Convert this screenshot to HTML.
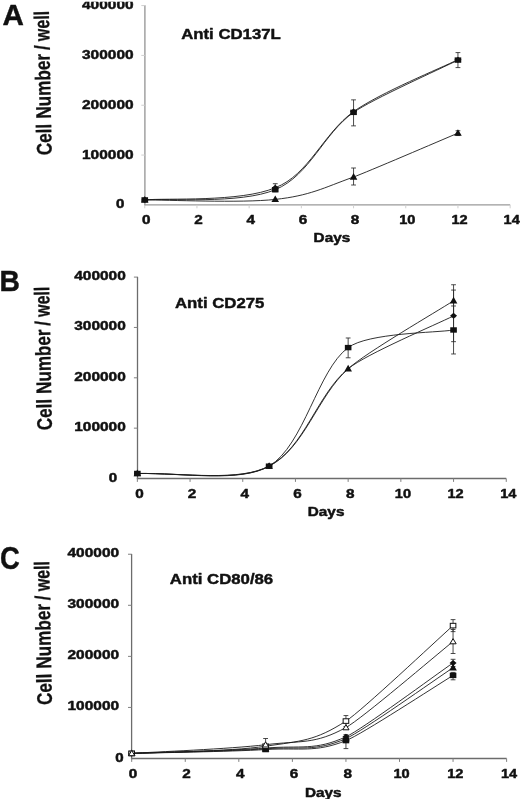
<!DOCTYPE html>
<html lang="en">
<head>
<meta charset="utf-8">
<title>Cell number per well</title>
<style>
html,body{margin:0;padding:0;background:#fff;}
body{width:520px;height:799px;overflow:hidden;}
svg{display:block;font-family:'Liberation Sans', Arial, Helvetica, sans-serif;font-weight:bold;fill:#111;}
text{stroke:#111;stroke-width:0.45px;stroke-linejoin:round;}
.yl text{stroke-width:0.3px;}
</style>
</head>
<body>
<svg width="520" height="799" viewBox="0 0 520 799">
<rect width="520" height="799" fill="#fff"/>
<line x1="144.9" y1="5.28" x2="144.9" y2="205.6" stroke="#9a9a9a" stroke-width="1.4"/>
<line x1="144.2" y1="204.9" x2="510.15" y2="204.9" stroke="#9a9a9a" stroke-width="1.4"/>
<line x1="141.3" y1="155.07" x2="144.9" y2="155.07" stroke="#cfcfcf" stroke-width="1"/>
<line x1="141.3" y1="105.24" x2="144.9" y2="105.24" stroke="#cfcfcf" stroke-width="1"/>
<line x1="141.3" y1="55.41" x2="144.9" y2="55.41" stroke="#cfcfcf" stroke-width="1"/>
<line x1="141.3" y1="5.58" x2="144.9" y2="5.58" stroke="#cfcfcf" stroke-width="1"/>
<line x1="144.75" y1="204.9" x2="144.75" y2="208.3" stroke="#cfcfcf" stroke-width="1"/>
<line x1="196.95" y1="204.9" x2="196.95" y2="208.3" stroke="#cfcfcf" stroke-width="1"/>
<line x1="249.15" y1="204.9" x2="249.15" y2="208.3" stroke="#cfcfcf" stroke-width="1"/>
<line x1="301.35" y1="204.9" x2="301.35" y2="208.3" stroke="#cfcfcf" stroke-width="1"/>
<line x1="353.55" y1="204.9" x2="353.55" y2="208.3" stroke="#cfcfcf" stroke-width="1"/>
<line x1="405.75" y1="204.9" x2="405.75" y2="208.3" stroke="#cfcfcf" stroke-width="1"/>
<line x1="457.95" y1="204.9" x2="457.95" y2="208.3" stroke="#cfcfcf" stroke-width="1"/>
<line x1="510.15" y1="204.9" x2="510.15" y2="208.3" stroke="#cfcfcf" stroke-width="1"/>
<text x="82" y="158.97" font-size="12.3" text-anchor="start" textLength="51.6" lengthAdjust="spacingAndGlyphs">100000</text>
<text x="82" y="109.14" font-size="12.3" text-anchor="start" textLength="51.6" lengthAdjust="spacingAndGlyphs">200000</text>
<text x="82" y="59.31" font-size="12.3" text-anchor="start" textLength="51.6" lengthAdjust="spacingAndGlyphs">300000</text>
<text x="82" y="9.48" font-size="12.3" text-anchor="start" textLength="51.6" lengthAdjust="spacingAndGlyphs">400000</text>
<text x="116" y="207.7" font-size="12" text-anchor="start" textLength="8.4" lengthAdjust="spacingAndGlyphs">0</text>
<text x="142.05" y="223.6" font-size="12" text-anchor="start" textLength="8.5" lengthAdjust="spacingAndGlyphs">0</text>
<text x="194.25" y="223.6" font-size="12" text-anchor="start" textLength="8.5" lengthAdjust="spacingAndGlyphs">2</text>
<text x="246.45" y="223.6" font-size="12" text-anchor="start" textLength="8.5" lengthAdjust="spacingAndGlyphs">4</text>
<text x="298.65" y="223.6" font-size="12" text-anchor="start" textLength="8.5" lengthAdjust="spacingAndGlyphs">6</text>
<text x="350.85" y="223.6" font-size="12" text-anchor="start" textLength="8.5" lengthAdjust="spacingAndGlyphs">8</text>
<text x="399.2" y="223.6" font-size="12" text-anchor="start" textLength="16.2" lengthAdjust="spacingAndGlyphs">10</text>
<text x="451.4" y="223.6" font-size="12" text-anchor="start" textLength="16.2" lengthAdjust="spacingAndGlyphs">12</text>
<text x="503.6" y="223.6" font-size="12" text-anchor="start" textLength="16.2" lengthAdjust="spacingAndGlyphs">14</text>
<text x="313.6" y="241.5" font-size="12" text-anchor="start" textLength="36.6" lengthAdjust="spacingAndGlyphs">Days</text>
<text x="181.2" y="39.4" font-size="15" text-anchor="start" textLength="99.6" lengthAdjust="spacingAndGlyphs">Anti CD137L</text>
<text x="2.6" y="24.5" font-size="30.4" text-anchor="start" textLength="21.4" lengthAdjust="spacingAndGlyphs">A</text>
<g class="yl" transform="translate(51.7 154.3) rotate(-91.15)" font-size="21.2">
<text x="-0.8" y="0" textLength="31.3" lengthAdjust="spacingAndGlyphs">Cell</text>
<text x="35.7" y="0" textLength="64.8" lengthAdjust="spacingAndGlyphs">Number</text>
<text x="104.3" y="0" textLength="5" lengthAdjust="spacingAndGlyphs">/</text>
<text x="113.4" y="0" textLength="30.2" lengthAdjust="spacingAndGlyphs">well</text>
</g>
<path d="M144.75 199.92 C166.5 197.88 240.45 202.43 275.25 187.71 C308.66 175.1 323.27 133.54 353.55 111.57 C380.96 92.36 440.55 68.3 457.95 59.65" fill="none" stroke="#1c1c1c" stroke-width="0.9"/>
<path d="M144.75 199.92 C166.5 198.21 240.45 204.29 275.25 189.7 C310.05 175.11 323.1 133.97 353.55 112.37 C371.82 99.4 440.55 68.81 457.95 60.09" fill="none" stroke="#1c1c1c" stroke-width="0.9"/>
<path d="M144.75 199.92 C166.5 199.83 240.45 203.24 275.25 199.42 C310.05 195.6 323.1 188.04 353.55 177 C366.34 172.36 440.55 140.45 457.95 133.14" fill="none" stroke="#1c1c1c" stroke-width="0.9"/>
<line x1="275.25" y1="183.71" x2="275.25" y2="191.71" stroke="#2a2a2a" stroke-width="0.85"/>
<line x1="272.85" y1="183.71" x2="277.65" y2="183.71" stroke="#2a2a2a" stroke-width="0.85"/>
<line x1="272.85" y1="191.71" x2="277.65" y2="191.71" stroke="#2a2a2a" stroke-width="0.85"/>
<line x1="353.55" y1="99.87" x2="353.55" y2="125.87" stroke="#2a2a2a" stroke-width="0.85"/>
<line x1="351.15" y1="99.87" x2="355.95" y2="99.87" stroke="#2a2a2a" stroke-width="0.85"/>
<line x1="351.15" y1="125.87" x2="355.95" y2="125.87" stroke="#2a2a2a" stroke-width="0.85"/>
<line x1="457.95" y1="52.59" x2="457.95" y2="67.59" stroke="#2a2a2a" stroke-width="0.85"/>
<line x1="455.55" y1="52.59" x2="460.35" y2="52.59" stroke="#2a2a2a" stroke-width="0.85"/>
<line x1="455.55" y1="67.59" x2="460.35" y2="67.59" stroke="#2a2a2a" stroke-width="0.85"/>
<line x1="353.55" y1="168" x2="353.55" y2="185" stroke="#2a2a2a" stroke-width="0.85"/>
<line x1="351.15" y1="168" x2="355.95" y2="168" stroke="#2a2a2a" stroke-width="0.85"/>
<line x1="351.15" y1="185" x2="355.95" y2="185" stroke="#2a2a2a" stroke-width="0.85"/>
<line x1="457.95" y1="130.74" x2="457.95" y2="135.54" stroke="#2a2a2a" stroke-width="0.85"/>
<line x1="455.55" y1="130.74" x2="460.35" y2="130.74" stroke="#2a2a2a" stroke-width="0.85"/>
<line x1="455.55" y1="135.54" x2="460.35" y2="135.54" stroke="#2a2a2a" stroke-width="0.85"/>
<path d="M141.25 199.92L144.75 196.92L148.25 199.92L144.75 202.92Z" fill="#111"/>
<path d="M271.75 187.71L275.25 184.71L278.75 187.71L275.25 190.71Z" fill="#111"/>
<path d="M350.05 111.57L353.55 108.57L357.05 111.57L353.55 114.57Z" fill="#111"/>
<path d="M454.45 59.65L457.95 56.65L461.45 59.65L457.95 62.65Z" fill="#111"/>
<rect x="141.45" y="197.22" width="6.6" height="5.4" fill="#111"/>
<rect x="271.95" y="187" width="6.6" height="5.4" fill="#111"/>
<rect x="350.25" y="109.67" width="6.6" height="5.4" fill="#111"/>
<rect x="454.65" y="57.39" width="6.6" height="5.4" fill="#111"/>
<path d="M144.75 196.02L148.55 202.62L140.95 202.62Z" fill="#111"/>
<path d="M275.25 195.52L279.05 202.12L271.45 202.12Z" fill="#111"/>
<path d="M353.55 173.1L357.35 179.7L349.75 179.7Z" fill="#111"/>
<path d="M457.95 129.24L461.75 135.84L454.15 135.84Z" fill="#111"/>
<line x1="137.5" y1="276.8" x2="137.5" y2="479.15" stroke="#6c6c6c" stroke-width="1.3"/>
<line x1="136.85" y1="478.5" x2="506.25" y2="478.5" stroke="#6c6c6c" stroke-width="1.3"/>
<line x1="133.9" y1="428.15" x2="137.5" y2="428.15" stroke="#808080" stroke-width="1"/>
<line x1="133.9" y1="377.8" x2="137.5" y2="377.8" stroke="#808080" stroke-width="1"/>
<line x1="133.9" y1="327.45" x2="137.5" y2="327.45" stroke="#808080" stroke-width="1"/>
<line x1="133.9" y1="277.1" x2="137.5" y2="277.1" stroke="#808080" stroke-width="1"/>
<line x1="137.35" y1="478.5" x2="137.35" y2="481.9" stroke="#808080" stroke-width="1"/>
<line x1="190.05" y1="478.5" x2="190.05" y2="481.9" stroke="#808080" stroke-width="1"/>
<line x1="242.75" y1="478.5" x2="242.75" y2="481.9" stroke="#808080" stroke-width="1"/>
<line x1="295.45" y1="478.5" x2="295.45" y2="481.9" stroke="#808080" stroke-width="1"/>
<line x1="348.15" y1="478.5" x2="348.15" y2="481.9" stroke="#808080" stroke-width="1"/>
<line x1="400.85" y1="478.5" x2="400.85" y2="481.9" stroke="#808080" stroke-width="1"/>
<line x1="453.55" y1="478.5" x2="453.55" y2="481.9" stroke="#808080" stroke-width="1"/>
<line x1="506.25" y1="478.5" x2="506.25" y2="481.9" stroke="#808080" stroke-width="1"/>
<text x="74.2" y="431.15" font-size="12.3" text-anchor="start" textLength="51.6" lengthAdjust="spacingAndGlyphs">100000</text>
<text x="74.2" y="380.8" font-size="12.3" text-anchor="start" textLength="51.6" lengthAdjust="spacingAndGlyphs">200000</text>
<text x="74.2" y="330.45" font-size="12.3" text-anchor="start" textLength="51.6" lengthAdjust="spacingAndGlyphs">300000</text>
<text x="74.2" y="280.1" font-size="12.3" text-anchor="start" textLength="51.6" lengthAdjust="spacingAndGlyphs">400000</text>
<text x="108.8" y="481.8" font-size="12" text-anchor="start" textLength="8.4" lengthAdjust="spacingAndGlyphs">0</text>
<text x="135.15" y="497.8" font-size="12" text-anchor="start" textLength="8.5" lengthAdjust="spacingAndGlyphs">0</text>
<text x="187.85" y="497.8" font-size="12" text-anchor="start" textLength="8.5" lengthAdjust="spacingAndGlyphs">2</text>
<text x="240.55" y="497.8" font-size="12" text-anchor="start" textLength="8.5" lengthAdjust="spacingAndGlyphs">4</text>
<text x="293.25" y="497.8" font-size="12" text-anchor="start" textLength="8.5" lengthAdjust="spacingAndGlyphs">6</text>
<text x="345.95" y="497.8" font-size="12" text-anchor="start" textLength="8.5" lengthAdjust="spacingAndGlyphs">8</text>
<text x="394.8" y="497.8" font-size="12" text-anchor="start" textLength="16.2" lengthAdjust="spacingAndGlyphs">10</text>
<text x="447.5" y="497.8" font-size="12" text-anchor="start" textLength="16.2" lengthAdjust="spacingAndGlyphs">12</text>
<text x="500.2" y="497.8" font-size="12" text-anchor="start" textLength="16.2" lengthAdjust="spacingAndGlyphs">14</text>
<text x="307.8" y="516.3" font-size="12" text-anchor="start" textLength="36.6" lengthAdjust="spacingAndGlyphs">Days</text>
<text x="175" y="307.5" font-size="15" text-anchor="start" textLength="89.4" lengthAdjust="spacingAndGlyphs">Anti CD275</text>
<text x="-0.4" y="290.9" font-size="30.4" text-anchor="start" textLength="20.4" lengthAdjust="spacingAndGlyphs">B</text>
<g class="yl" transform="translate(52 429.1) rotate(-91.15)" font-size="21.2">
<text x="-0.79" y="0" textLength="31.05" lengthAdjust="spacingAndGlyphs">Cell</text>
<text x="35.41" y="0" textLength="64.28" lengthAdjust="spacingAndGlyphs">Number</text>
<text x="103.47" y="0" textLength="4.96" lengthAdjust="spacingAndGlyphs">/</text>
<text x="112.49" y="0" textLength="29.96" lengthAdjust="spacingAndGlyphs">well</text>
</g>
<path d="M137.35 473.46 C184.78 472.96 240.12 482.02 269.1 465.91 C304.23 448.46 317.41 393.74 348.15 368.74 C366.59 353.73 435.98 324.68 453.55 315.87" fill="none" stroke="#1c1c1c" stroke-width="0.9"/>
<path d="M137.35 473.46 C184.78 472.96 240.12 482.28 269.1 466.16 C304.23 448.71 317.41 396.3 348.15 368.74 C366.59 352.2 435.98 312.09 453.55 300.76" fill="none" stroke="#1c1c1c" stroke-width="0.9"/>
<path d="M137.35 473.46 C184.78 472.96 240.12 482.78 269.1 466.16 C304.23 445.19 317.41 370.29 348.15 347.59 C368.44 332.61 435.98 332.9 453.55 329.97" fill="none" stroke="#1c1c1c" stroke-width="0.9"/>
<line x1="453.55" y1="290.07" x2="453.55" y2="341.67" stroke="#2a2a2a" stroke-width="0.85"/>
<line x1="451.15" y1="290.07" x2="455.95" y2="290.07" stroke="#2a2a2a" stroke-width="0.85"/>
<line x1="451.15" y1="341.67" x2="455.95" y2="341.67" stroke="#2a2a2a" stroke-width="0.85"/>
<line x1="453.55" y1="284.76" x2="453.55" y2="316.76" stroke="#2a2a2a" stroke-width="0.85"/>
<line x1="451.15" y1="284.76" x2="455.95" y2="284.76" stroke="#2a2a2a" stroke-width="0.85"/>
<line x1="451.15" y1="316.76" x2="455.95" y2="316.76" stroke="#2a2a2a" stroke-width="0.85"/>
<line x1="348.15" y1="337.99" x2="348.15" y2="357.79" stroke="#2a2a2a" stroke-width="0.85"/>
<line x1="345.75" y1="337.99" x2="350.55" y2="337.99" stroke="#2a2a2a" stroke-width="0.85"/>
<line x1="345.75" y1="357.79" x2="350.55" y2="357.79" stroke="#2a2a2a" stroke-width="0.85"/>
<line x1="453.55" y1="305.97" x2="453.55" y2="353.97" stroke="#2a2a2a" stroke-width="0.85"/>
<line x1="451.15" y1="305.97" x2="455.95" y2="305.97" stroke="#2a2a2a" stroke-width="0.85"/>
<line x1="451.15" y1="353.97" x2="455.95" y2="353.97" stroke="#2a2a2a" stroke-width="0.85"/>
<path d="M133.85 473.46L137.35 470.46L140.85 473.46L137.35 476.46Z" fill="#111"/>
<path d="M265.6 465.91L269.1 462.91L272.6 465.91L269.1 468.91Z" fill="#111"/>
<path d="M450.05 315.87L453.55 312.87L457.05 315.87L453.55 318.87Z" fill="#111"/>
<path d="M137.35 469.56L141.15 476.16L133.55 476.16Z" fill="#111"/>
<path d="M269.1 462.26L272.9 468.86L265.3 468.86Z" fill="#111"/>
<path d="M348.15 364.84L351.95 371.44L344.35 371.44Z" fill="#111"/>
<path d="M453.55 296.86L457.35 303.46L449.75 303.46Z" fill="#111"/>
<rect x="134.05" y="470.76" width="6.6" height="5.4" fill="#111"/>
<rect x="265.8" y="463.46" width="6.6" height="5.4" fill="#111"/>
<rect x="344.85" y="344.89" width="6.6" height="5.4" fill="#111"/>
<rect x="450.25" y="327.27" width="6.6" height="5.4" fill="#111"/>
<line x1="131.6" y1="553.92" x2="131.6" y2="759.15" stroke="#6c6c6c" stroke-width="1.3"/>
<line x1="130.95" y1="758.5" x2="506.62" y2="758.5" stroke="#6c6c6c" stroke-width="1.3"/>
<line x1="128" y1="707.43" x2="131.6" y2="707.43" stroke="#808080" stroke-width="1"/>
<line x1="128" y1="656.36" x2="131.6" y2="656.36" stroke="#808080" stroke-width="1"/>
<line x1="128" y1="605.29" x2="131.6" y2="605.29" stroke="#808080" stroke-width="1"/>
<line x1="128" y1="554.22" x2="131.6" y2="554.22" stroke="#808080" stroke-width="1"/>
<line x1="131.7" y1="758.5" x2="131.7" y2="761.9" stroke="#808080" stroke-width="1"/>
<line x1="185.26" y1="758.5" x2="185.26" y2="761.9" stroke="#808080" stroke-width="1"/>
<line x1="238.82" y1="758.5" x2="238.82" y2="761.9" stroke="#808080" stroke-width="1"/>
<line x1="292.38" y1="758.5" x2="292.38" y2="761.9" stroke="#808080" stroke-width="1"/>
<line x1="345.94" y1="758.5" x2="345.94" y2="761.9" stroke="#808080" stroke-width="1"/>
<line x1="399.5" y1="758.5" x2="399.5" y2="761.9" stroke="#808080" stroke-width="1"/>
<line x1="453.06" y1="758.5" x2="453.06" y2="761.9" stroke="#808080" stroke-width="1"/>
<line x1="506.62" y1="758.5" x2="506.62" y2="761.9" stroke="#808080" stroke-width="1"/>
<text x="67.5" y="710.43" font-size="12.3" text-anchor="start" textLength="51.6" lengthAdjust="spacingAndGlyphs">100000</text>
<text x="67.5" y="659.36" font-size="12.3" text-anchor="start" textLength="51.6" lengthAdjust="spacingAndGlyphs">200000</text>
<text x="67.5" y="608.29" font-size="12.3" text-anchor="start" textLength="51.6" lengthAdjust="spacingAndGlyphs">300000</text>
<text x="67.5" y="557.22" font-size="12.3" text-anchor="start" textLength="51.6" lengthAdjust="spacingAndGlyphs">400000</text>
<text x="115.2" y="761.8" font-size="12" text-anchor="start" textLength="8.4" lengthAdjust="spacingAndGlyphs">0</text>
<text x="128.65" y="777.6" font-size="12" text-anchor="start" textLength="8.5" lengthAdjust="spacingAndGlyphs">0</text>
<text x="182.39" y="777.6" font-size="12" text-anchor="start" textLength="8.5" lengthAdjust="spacingAndGlyphs">2</text>
<text x="236.13" y="777.6" font-size="12" text-anchor="start" textLength="8.5" lengthAdjust="spacingAndGlyphs">4</text>
<text x="289.87" y="777.6" font-size="12" text-anchor="start" textLength="8.5" lengthAdjust="spacingAndGlyphs">6</text>
<text x="343.61" y="777.6" font-size="12" text-anchor="start" textLength="8.5" lengthAdjust="spacingAndGlyphs">8</text>
<text x="393.5" y="777.6" font-size="12" text-anchor="start" textLength="16.2" lengthAdjust="spacingAndGlyphs">10</text>
<text x="447.24" y="777.6" font-size="12" text-anchor="start" textLength="16.2" lengthAdjust="spacingAndGlyphs">12</text>
<text x="500.98" y="777.6" font-size="12" text-anchor="start" textLength="16.2" lengthAdjust="spacingAndGlyphs">14</text>
<text x="304.9" y="796.8" font-size="12" text-anchor="start" textLength="36.6" lengthAdjust="spacingAndGlyphs">Days</text>
<text x="169.8" y="584.3" font-size="15" text-anchor="start" textLength="103.4" lengthAdjust="spacingAndGlyphs">Anti CD80/86</text>
<text x="-0.1" y="568.7" font-size="32" text-anchor="start" textLength="19.8" lengthAdjust="spacingAndGlyphs">C</text>
<g class="yl" transform="translate(52 704) rotate(-91.15)" font-size="21.2">
<text x="-0.8" y="0" textLength="31.17" lengthAdjust="spacingAndGlyphs">Cell</text>
<text x="35.56" y="0" textLength="64.54" lengthAdjust="spacingAndGlyphs">Number</text>
<text x="103.88" y="0" textLength="4.98" lengthAdjust="spacingAndGlyphs">/</text>
<text x="112.95" y="0" textLength="30.08" lengthAdjust="spacingAndGlyphs">well</text>
</g>
<path d="M131.7 753.39 C154.02 752.75 229.89 751.69 265.6 749.56 C301.31 747.43 314.7 752.98 345.94 740.63 C361.87 734.32 435.21 686.28 453.06 675.41" fill="none" stroke="#1c1c1c" stroke-width="0.9"/>
<path d="M131.7 753.39 C154.02 752.63 229.89 751.27 265.6 748.8 C301.31 746.33 314.7 752.1 345.94 738.58 C361.87 731.69 435.21 679.51 453.06 667.7" fill="none" stroke="#1c1c1c" stroke-width="0.9"/>
<path d="M131.7 753.39 C154.02 752.5 229.89 750.8 265.6 748.03 C301.31 745.26 314.7 750.98 345.94 736.8 C361.87 729.56 435.21 675.21 453.06 662.9" fill="none" stroke="#1c1c1c" stroke-width="0.9"/>
<path d="M131.7 753.39 C154.02 752.2 229.89 751.63 265.6 746.24 C301.31 740.86 314.7 741.17 345.94 721.07 C361.87 710.81 435.21 641.52 453.06 625.62" fill="none" stroke="#1c1c1c" stroke-width="0.9"/>
<path d="M131.7 753.39 C154.02 751.95 229.89 749.03 265.6 744.71 C301.31 740.4 314.7 744.7 345.94 727.5 C361.87 718.73 435.21 655.83 453.06 641.5" fill="none" stroke="#1c1c1c" stroke-width="0.9"/>
<line x1="453.06" y1="672.41" x2="453.06" y2="679.81" stroke="#2a2a2a" stroke-width="0.85"/>
<line x1="450.66" y1="672.41" x2="455.46" y2="672.41" stroke="#2a2a2a" stroke-width="0.85"/>
<line x1="450.66" y1="679.81" x2="455.46" y2="679.81" stroke="#2a2a2a" stroke-width="0.85"/>
<line x1="345.94" y1="734.58" x2="345.94" y2="748.58" stroke="#2a2a2a" stroke-width="0.85"/>
<line x1="343.54" y1="734.58" x2="348.34" y2="734.58" stroke="#2a2a2a" stroke-width="0.85"/>
<line x1="343.54" y1="748.58" x2="348.34" y2="748.58" stroke="#2a2a2a" stroke-width="0.85"/>
<line x1="453.06" y1="659.3" x2="453.06" y2="666.5" stroke="#2a2a2a" stroke-width="0.85"/>
<line x1="450.66" y1="659.3" x2="455.46" y2="659.3" stroke="#2a2a2a" stroke-width="0.85"/>
<line x1="450.66" y1="666.5" x2="455.46" y2="666.5" stroke="#2a2a2a" stroke-width="0.85"/>
<line x1="345.94" y1="715.57" x2="345.94" y2="726.57" stroke="#2a2a2a" stroke-width="0.85"/>
<line x1="343.54" y1="715.57" x2="348.34" y2="715.57" stroke="#2a2a2a" stroke-width="0.85"/>
<line x1="343.54" y1="726.57" x2="348.34" y2="726.57" stroke="#2a2a2a" stroke-width="0.85"/>
<line x1="453.06" y1="619.62" x2="453.06" y2="631.62" stroke="#2a2a2a" stroke-width="0.85"/>
<line x1="450.66" y1="619.62" x2="455.46" y2="619.62" stroke="#2a2a2a" stroke-width="0.85"/>
<line x1="450.66" y1="631.62" x2="455.46" y2="631.62" stroke="#2a2a2a" stroke-width="0.85"/>
<line x1="265.6" y1="738.51" x2="265.6" y2="748.71" stroke="#2a2a2a" stroke-width="0.85"/>
<line x1="263.2" y1="738.51" x2="268" y2="738.51" stroke="#2a2a2a" stroke-width="0.85"/>
<line x1="263.2" y1="748.71" x2="268" y2="748.71" stroke="#2a2a2a" stroke-width="0.85"/>
<line x1="453.06" y1="629.5" x2="453.06" y2="653.5" stroke="#2a2a2a" stroke-width="0.85"/>
<line x1="450.66" y1="629.5" x2="455.46" y2="629.5" stroke="#2a2a2a" stroke-width="0.85"/>
<line x1="450.66" y1="653.5" x2="455.46" y2="653.5" stroke="#2a2a2a" stroke-width="0.85"/>
<rect x="128.4" y="750.69" width="6.6" height="5.4" fill="#111"/>
<rect x="262.3" y="746.86" width="6.6" height="5.4" fill="#111"/>
<rect x="342.64" y="737.93" width="6.6" height="5.4" fill="#111"/>
<rect x="449.76" y="672.71" width="6.6" height="5.4" fill="#111"/>
<path d="M131.7 749.49L135.5 756.09L127.9 756.09Z" fill="#111"/>
<path d="M265.6 744.9L269.4 751.5L261.8 751.5Z" fill="#111"/>
<path d="M345.94 734.68L349.74 741.28L342.14 741.28Z" fill="#111"/>
<path d="M453.06 663.8L456.86 670.4L449.26 670.4Z" fill="#111"/>
<path d="M128.2 753.39L131.7 750.39L135.2 753.39L131.7 756.39Z" fill="#111"/>
<path d="M262.1 748.03L265.6 745.03L269.1 748.03L265.6 751.03Z" fill="#111"/>
<path d="M342.44 736.8L345.94 733.8L349.44 736.8L345.94 739.8Z" fill="#111"/>
<path d="M449.56 662.9L453.06 659.9L456.56 662.9L453.06 665.9Z" fill="#111"/>
<rect x="128.9" y="751.09" width="5.6" height="4.6" fill="#fff" stroke="#111" stroke-width="1"/>
<rect x="262.8" y="743.94" width="5.6" height="4.6" fill="#fff" stroke="#111" stroke-width="1"/>
<rect x="343.14" y="718.77" width="5.6" height="4.6" fill="#fff" stroke="#111" stroke-width="1"/>
<rect x="450.26" y="623.32" width="5.6" height="4.6" fill="#fff" stroke="#111" stroke-width="1"/>
<path d="M131.7 750.49L134.8 755.69L128.6 755.69Z" fill="#fff" stroke="#111" stroke-width="1"/>
<path d="M265.6 741.81L268.7 747.01L262.5 747.01Z" fill="#fff" stroke="#111" stroke-width="1"/>
<path d="M345.94 724.6L349.04 729.8L342.84 729.8Z" fill="#fff" stroke="#111" stroke-width="1"/>
<path d="M453.06 638.6L456.16 643.8L449.96 643.8Z" fill="#fff" stroke="#111" stroke-width="1"/>
<rect x="60" y="0" width="100" height="1.7" fill="#fff"/>
</svg>
</body>
</html>
